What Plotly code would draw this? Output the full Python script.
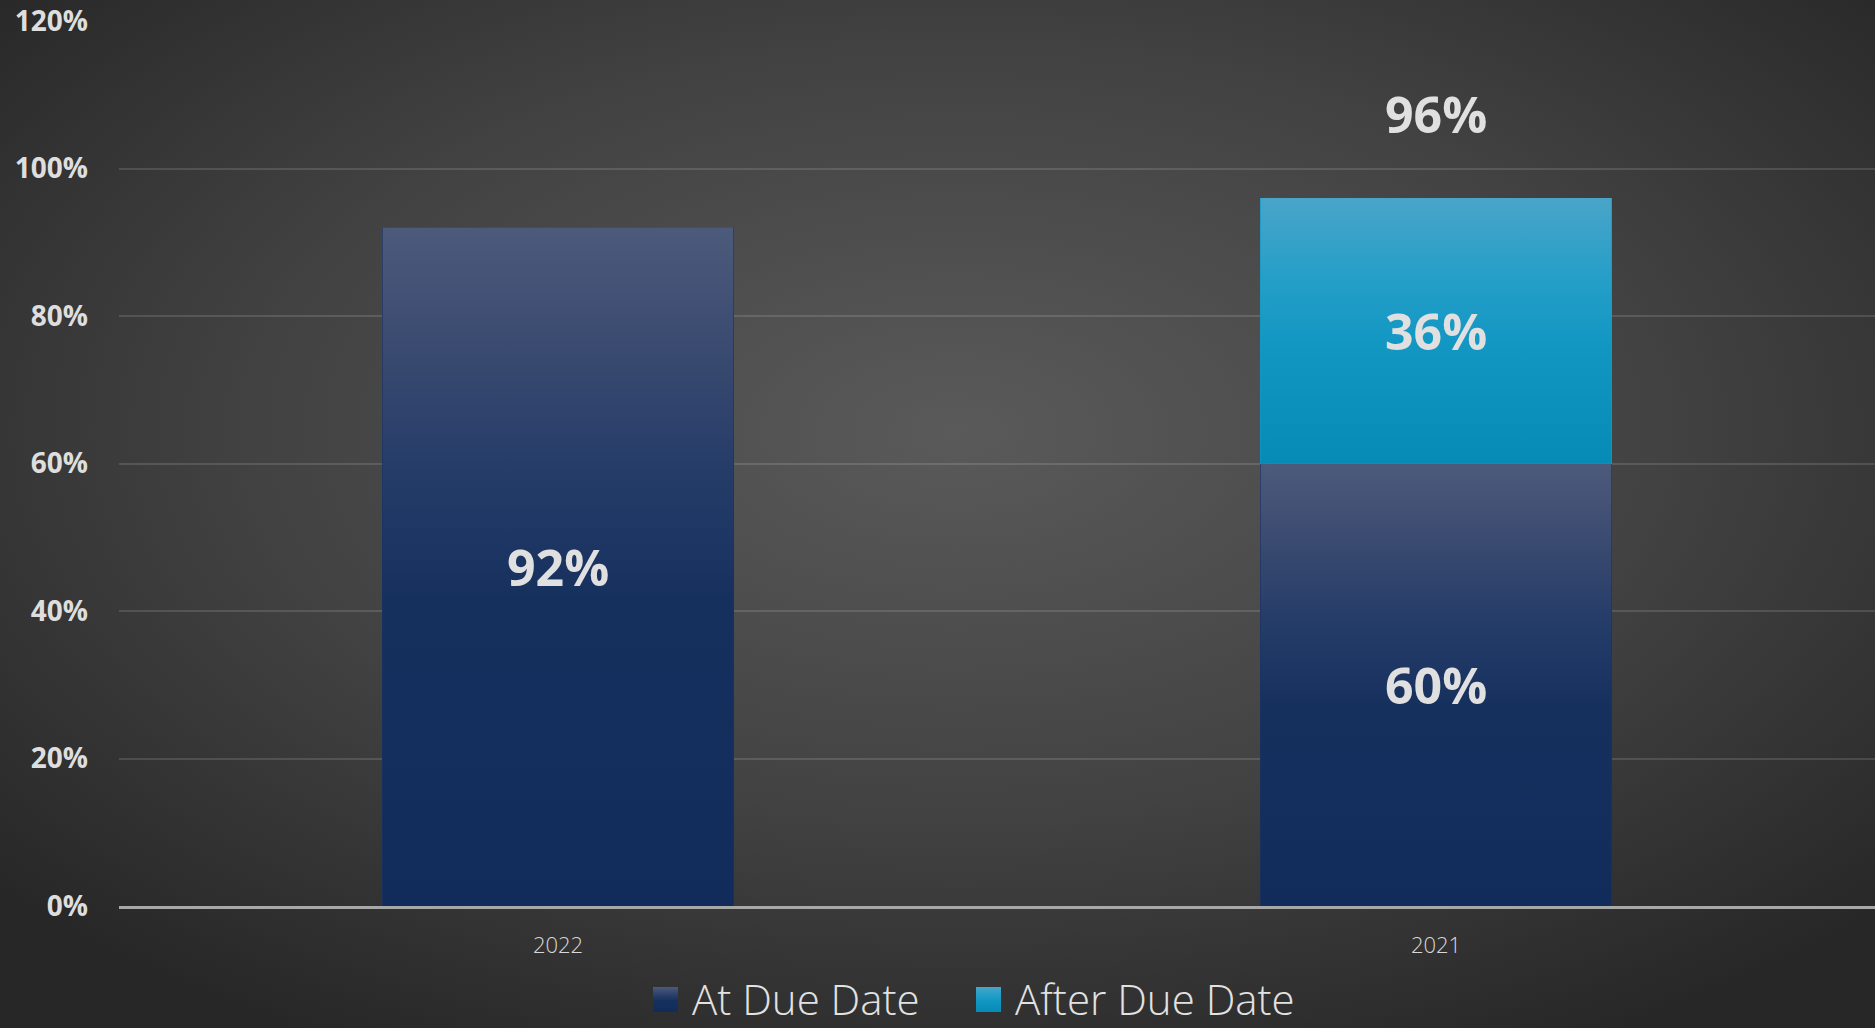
import base64
import plotly.graph_objects as go

# ---- data ----
categories = ["2022", "2021"]
at_due = [0.92, 0.60]
after_due = [None, 0.36]
series_names = ["At Due Date", "After Due Date"]
y_ticks = [0, 0.2, 0.4, 0.6, 0.8, 1.0, 1.2]

# ---- style ----
W, H = 1875, 1028
ML, MR, MT, MB = 119, 0, 21, 122
PW, PH = W - ML - MR, H - MT - MB
col_at = "#1a3262"
col_after = "#1697c2"
txt_col = "#e0e0e0"
FONT = "Open Sans"
BAR_W = 0.4
label_font = dict(family=FONT, size=50, color=txt_col, weight="bold")


def svg_uri(body, w=100, h=100):
    svg = (f'<svg xmlns="http://www.w3.org/2000/svg" width="{w}" height="{h}" '
           f'viewBox="0 0 {w} {h}" preserveAspectRatio="none">{body}</svg>')
    return "data:image/svg+xml;base64," + base64.b64encode(svg.encode()).decode()


grad_at = svg_uri(
    '<defs><linearGradient id="g" x1="0" y1="0" x2="0" y2="1">'
    '<stop offset="0" stop-color="#4c5a7b"/><stop offset="0.18" stop-color="#3a4a70"/>'
    '<stop offset="0.35" stop-color="#263d69"/><stop offset="0.55" stop-color="#16305e"/>'
    '<stop offset="1" stop-color="#112c5b"/></linearGradient></defs>'
    '<rect width="100" height="100" fill="url(#g)"/>')
grad_after = svg_uri(
    '<defs><linearGradient id="g" x1="0" y1="0" x2="0" y2="1">'
    '<stop offset="0" stop-color="#4aa4c9"/><stop offset="0.3" stop-color="#259fc8"/>'
    '<stop offset="0.55" stop-color="#1297c3"/><stop offset="1" stop-color="#068ab6"/>'
    '</linearGradient></defs><rect width="100" height="100" fill="url(#g)"/>')

fig = go.Figure()
fig.add_trace(go.Bar(x=categories, y=at_due, name=series_names[0], width=BAR_W,
                     marker=dict(color=col_at, line=dict(width=0)), showlegend=False,
                     hoverinfo="skip"))
fig.add_trace(go.Bar(x=categories, y=after_due, name=series_names[1], width=BAR_W,
                     marker=dict(color=col_after, line=dict(width=0)), showlegend=False,
                     hoverinfo="skip"))

# gradient skins + labels, placed through the data axes
for i, c in enumerate(categories):
    base = 0.0
    for vals, grad in ((at_due, grad_at), (after_due, grad_after)):
        v = vals[i]
        if v is None:
            continue
        fig.add_layout_image(source=grad, xref="x", yref="y", x=i, y=base + v,
                             sizex=BAR_W, sizey=v, xanchor="center", yanchor="top",
                             sizing="stretch", layer="above")
        fig.add_annotation(x=i, y=base + v / 2, xref="x", yref="y", text=f"{v:.0%}",
                           showarrow=False, yanchor="middle", font=label_font)
        base += v
    if after_due[i] is not None:
        fig.add_annotation(x=i, y=base, xref="x", yref="y", text=f"{base:.0%}",
                           showarrow=False, yanchor="middle", yshift=84, font=label_font)

# background radial gradient
bg = svg_uri(
    '<defs><radialGradient id="g" cx="0.51" cy="0.42" r="0.68">'
    '<stop offset="0" stop-color="#5a5a5a"/><stop offset="0.55" stop-color="#424242"/>'
    '<stop offset="1" stop-color="#272727"/></radialGradient></defs>'
    f'<rect width="{W}" height="{H}" fill="url(#g)"/>', W, H)
fig.add_layout_image(source=bg, xref="paper", yref="paper", x=-ML / PW, y=1 + MT / PH,
                     sizex=W / PW, sizey=H / PH, xanchor="left", yanchor="top",
                     sizing="stretch", layer="below")


# custom legend
def px2x(p):
    return (p - ML) / PW


def py2y(p):
    return (H - MB - p) / PH


legend_items = [(series_names[0], grad_at, 653, 690), (series_names[1], grad_after, 976, 1013)]
for name, grad, sx, tx in legend_items:
    fig.add_layout_image(source=grad, xref="paper", yref="paper", x=px2x(sx), y=py2y(987),
                         sizex=25 / PW, sizey=25 / PH, xanchor="left", yanchor="top",
                         sizing="stretch", layer="above")
    fig.add_annotation(xref="paper", yref="paper", x=px2x(tx), y=py2y(998), text=name,
                       showarrow=False, xanchor="left", yanchor="middle",
                       font=dict(family=FONT, size=42, color="#e2e2e2", weight=300))

fig.update_layout(
    width=W, height=H, margin=dict(l=ML, r=MR, t=MT, b=MB, pad=0),
    barmode="stack",
    paper_bgcolor="#303030", plot_bgcolor="rgba(0,0,0,0)",
    showlegend=False,
    font=dict(family=FONT, color=txt_col),
    xaxis=dict(type="category", range=[-0.5, len(categories) - 0.5], autorange=False,
               showgrid=False, showline=True, linecolor="#a8a8a8", linewidth=3,
               ticks="", ticklabelstandoff=18,
               tickfont=dict(family=FONT, size=22, color="#d8d8d8", weight=300)),
    yaxis=dict(range=[0, 1.2], tickvals=y_ticks, tickformat=".0%", showgrid=True,
               gridcolor="rgba(255,255,255,0.13)", gridwidth=2, zeroline=False,
               ticks="", ticklabelstandoff=30,
               tickfont=dict(family=FONT, size=28, color="#dedede", weight="bold")),
)

fig.write_html("out.html", config={"displayModeBar": False},
               post_script="document.body.style.margin='0';document.body.style.overflow='hidden';")
